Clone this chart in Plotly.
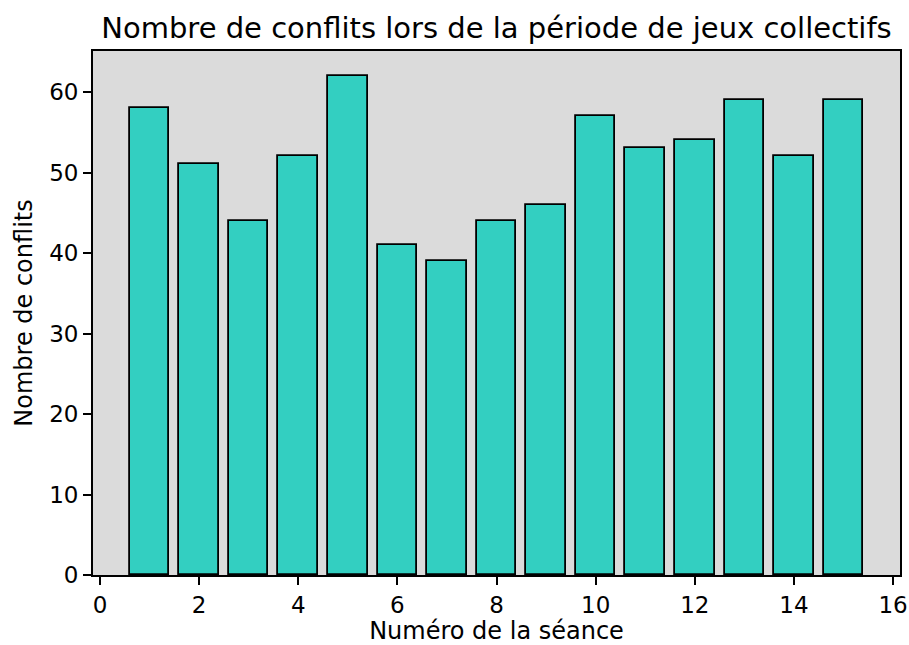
import plotly.graph_objects as go

seances = list(range(1, 16))
conflits = [58, 51, 44, 52, 62, 41, 39, 44, 46, 57, 53, 54, 59, 52, 59]
x_ticks = [0, 2, 4, 6, 8, 10, 12, 14, 16]
y_ticks = [0, 10, 20, 30, 40, 50, 60]

fig = go.Figure(go.Bar(
    x=seances, y=conflits, width=0.8,
    marker=dict(color="#33cfc1", line=dict(color="black", width=1.8)),
))

font = "DejaVu Sans"
fig.update_layout(
    width=909, height=645, autosize=False,
    margin=dict(l=93, r=9, t=51, b=70),
    paper_bgcolor="white", plot_bgcolor="#dbdbdb",
    font=dict(family=font, size=24, color="black"),
    title=dict(text="Nombre de conflits lors de la période de jeux collectifs",
               x=0.5, xref="paper", xanchor="center", y=1 - 28 / 645, yanchor="middle",
               font=dict(size=29, family=font, color="black")),
    showlegend=False,
    bargap=0,
)
fig.update_xaxes(range=[-0.14, 16.14], tickvals=x_ticks, ticks="outside", ticklen=8,
                 tickwidth=1.5, tickcolor="black", showgrid=False, zeroline=False,
                 showline=True, linecolor="black", linewidth=1.8, mirror=True,
                 tickfont=dict(size=23), automargin=False,
                 title=dict(text="Numéro de la séance", font=dict(size=24), standoff=9))
fig.update_yaxes(range=[0, 65.1], tickvals=y_ticks, ticks="outside", ticklen=8,
                 tickwidth=1.5, tickcolor="black", showgrid=False, zeroline=False,
                 showline=True, linecolor="black", linewidth=1.8, mirror=True,
                 tickfont=dict(size=23), automargin=False,
                 title=dict(text="Nombre de conflits", font=dict(size=24), standoff=10))

fig.write_html(
    "out.html",
    config=dict(displayModeBar=False, responsive=False),
    default_width="909px", default_height="645px",
    post_script=("document.documentElement.style.overflow='hidden';"
                 "document.body.style.overflow='hidden';"
                 "document.body.style.margin='0';"),
)
